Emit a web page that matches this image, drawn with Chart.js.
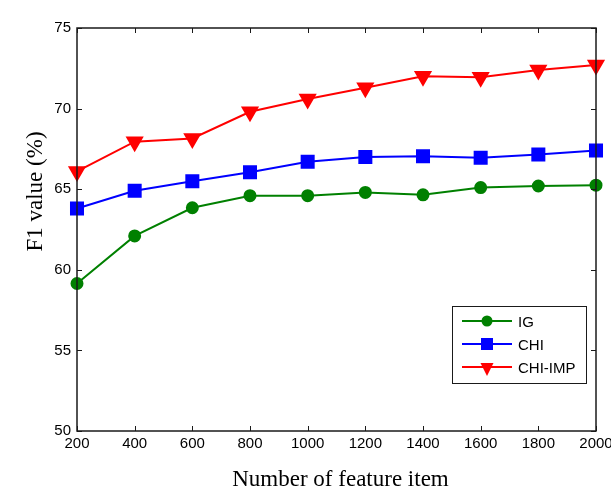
<!DOCTYPE html>
<html>
<head>
<meta charset="utf-8">
<script src="https://cdn.jsdelivr.net/npm/chart.js@4.4.1/dist/chart.umd.min.js"></script>
<style>
  html, body { margin: 0; padding: 0; background: #fff; }
  #wrap { width: 611px; height: 493px; position: relative; }
</style>
</head>
<body>
<div id="wrap"><canvas id="chart"></canvas></div>
<script>
// ─── Data ────────────────────────────────────────────────
const featureItems = [200, 400, 600, 800, 1000, 1200, 1400, 1600, 1800, 2000];
const igValues     = [59.15, 62.1, 63.85, 64.6, 64.6, 64.8, 64.65, 65.1, 65.2, 65.25];
const chiValues    = [63.8, 64.9, 65.5, 66.05, 66.7, 67.0, 67.05, 66.95, 67.15, 67.4];
const chiImpValues = [66.1, 67.95, 68.15, 69.8, 70.6, 71.3, 72.0, 71.95, 72.4, 72.7];
const xTicks = [200, 400, 600, 800, 1000, 1200, 1400, 1600, 1800, 2000];
const yTicks = [50, 55, 60, 65, 70, 75];
const xTitle = 'Number of feature item';
const yTitle = 'F1 value (%)';

const toPoints = vals => vals.map((v, i) => ({ x: featureItems[i], y: v }));

const serif = '"Liberation Serif", "Times New Roman", serif';
const sans  = '"Liberation Sans", Arial, sans-serif';

// ─── Frame, inward ticks and axis titles (MATLAB look) ───
const framePlugin = {
  id: 'frame',
  afterDraw(chart) {
    const { ctx, chartArea: a, scales } = chart;
    const len = 5;
    ctx.save();
    ctx.strokeStyle = '#1a1a1a';
    ctx.lineWidth = 1;
    ctx.beginPath();
    xTicks.forEach(v => {
      const x = Math.round(scales.x.getPixelForValue(v)) + 0.5;
      ctx.moveTo(x, a.bottom); ctx.lineTo(x, a.bottom - len);
      ctx.moveTo(x, a.top);    ctx.lineTo(x, a.top + len);
    });
    yTicks.forEach(v => {
      const y = Math.round(scales.y.getPixelForValue(v)) + 0.5;
      ctx.moveTo(a.left, y);  ctx.lineTo(a.left + len, y);
      ctx.moveTo(a.right, y); ctx.lineTo(a.right - len, y);
    });
    ctx.stroke();
    ctx.lineWidth = 1.5;
    ctx.strokeRect(a.left, a.top, a.right - a.left, a.bottom - a.top);

    // axis titles
    ctx.fillStyle = '#000';
    ctx.font = '23px ' + serif;
    ctx.textAlign = 'center';
    ctx.textBaseline = 'alphabetic';
    ctx.fillText(xTitle, (a.left + a.right) / 2 + 4, 486);
    ctx.translate(42, 191.5);
    ctx.rotate(-Math.PI / 2);
    ctx.fillText(yTitle, 0, 0);
    ctx.restore();
  }
};

// ─── Legend box inside plot, line + marker ───────────────
function drawMarker(ctx, style, x, y, color) {
  ctx.fillStyle = color;
  ctx.beginPath();
  if (style === 'circle') {
    ctx.arc(x, y, 5.5, 0, Math.PI * 2);
  } else if (style === 'rect') {
    ctx.rect(x - 6, y - 6, 12, 12);
  } else {
    ctx.moveTo(x - 6.5, y - 4);
    ctx.lineTo(x + 6.5, y - 4);
    ctx.lineTo(x, y + 9);
    ctx.closePath();
  }
  ctx.fill();
}

const legendPlugin = {
  id: 'boxLegend',
  afterDraw(chart) {
    const { ctx, chartArea: a } = chart;
    const w = 134, h = 77;
    const bx = a.right - 10 - w, by = a.bottom - 48 - h;
    ctx.save();
    ctx.fillStyle = '#fff';
    ctx.fillRect(bx, by, w, h);
    ctx.strokeStyle = '#1a1a1a';
    ctx.lineWidth = 1;
    ctx.strokeRect(bx + 0.5, by + 0.5, w, h);
    ctx.font = '15px ' + sans;
    ctx.textBaseline = 'middle';
    chart.data.datasets.forEach((ds, i) => {
      const y = by + 15 + i * 23;
      ctx.strokeStyle = ds.borderColor;
      ctx.lineWidth = 2;
      ctx.beginPath();
      ctx.moveTo(bx + 10, y); ctx.lineTo(bx + 60, y);
      ctx.stroke();
      drawMarker(ctx, ds.legendMarker, bx + 35, y, ds.borderColor);
      ctx.fillStyle = '#000';
      ctx.fillText(ds.label, bx + 66, y + 2);
    });
    ctx.restore();
  }
};

const tickFont = { family: sans, size: 15 };

new Chart(document.getElementById('chart'), {
  type: 'line',
  data: {
    datasets: [
      {
        label: 'IG', data: toPoints(igValues), legendMarker: 'circle',
        borderColor: '#008000', backgroundColor: '#008000',
        pointStyle: 'circle', pointRadius: 5.5, borderWidth: 2, clip: false
      },
      {
        label: 'CHI', data: toPoints(chiValues), legendMarker: 'rect',
        borderColor: '#0000ff', backgroundColor: '#0000ff',
        pointStyle: 'rect', pointRadius: 8.5, borderWidth: 2, clip: false
      },
      {
        label: 'CHI-IMP', data: toPoints(chiImpValues), legendMarker: 'triangle',
        borderColor: '#ff0000', backgroundColor: '#ff0000',
        pointStyle: 'triangle', pointRotation: 180, pointRadius: 8.5, borderWidth: 2, clip: false
      }
    ]
  },
  options: {
    responsive: true, maintainAspectRatio: false, animation: false,
    layout: { padding: { left: 0, right: 15, top: 28, bottom: 0 } },
    plugins: { legend: { display: false }, tooltip: { enabled: false } },
    elements: { line: { tension: 0 }, point: { borderWidth: 0, hoverRadius: 6 } },
    scales: {
      x: {
        type: 'linear', min: 200, max: 2000,
        afterBuildTicks: s => { s.ticks = xTicks.map(v => ({ value: v })); },
        afterFit: s => { s.height = 62; s.paddingLeft = 0; s.paddingRight = 0; },
        grid: { display: false, drawTicks: false }, border: { display: false },
        ticks: { color: '#000', font: tickFont, padding: 4, maxRotation: 0, autoSkip: false,
                 callback: v => String(v) }
      },
      y: {
        min: 50, max: 75,
        afterBuildTicks: s => { s.ticks = yTicks.map(v => ({ value: v })); },
        afterFit: s => { s.width = 77; s.paddingTop = 0; s.paddingBottom = 0; },
        grid: { display: false, drawTicks: false }, border: { display: false },
        ticks: { color: '#000', font: tickFont, padding: 6, callback: v => String(v) }
      }
    }
  },
  plugins: [framePlugin, legendPlugin]
});
</script>
</body>
</html>
